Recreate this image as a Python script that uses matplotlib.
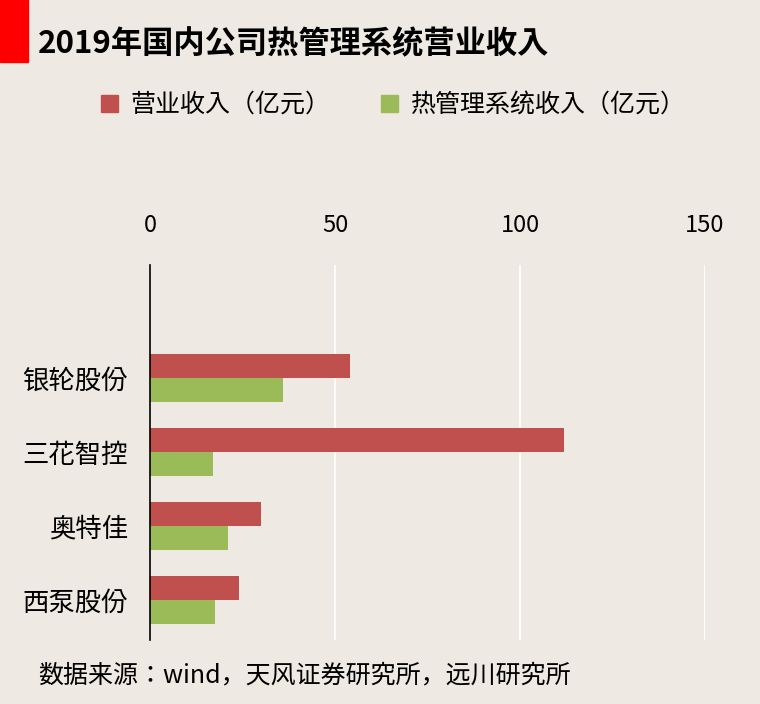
import matplotlib
matplotlib.use("Agg")
import matplotlib.pyplot as plt
import matplotlib.patches as mpatches
from matplotlib import font_manager as fm
import numpy as np

names = sorted({f.name for f in fm.fontManager.ttflist})
cjk = None
for pref in ["Noto Sans CJK SC", "Noto Sans CJK JP", "Noto Sans CJK TC", "Noto Sans CJK KR"]:
    if pref in names:
        cjk = pref
        break
if cjk is None:
    cands = [n for n in names if "Sans" in n and "CJK" in n]
    cjk = cands[0] if cands else "DejaVu Sans"
plt.rcParams["font.family"] = [cjk, "DejaVu Sans"]

title = "2019年国内公司热管理系统营业收入"
categories = ["银轮股份", "三花智控", "奥特佳", "西泵股份"]
revenue = [54.1, 111.9, 30.0, 24.0]
thermal = [35.9, 17.0, 21.0, 17.7]
series_names = ["营业收入（亿元）", "热管理系统收入（亿元）"]
xticks = [0, 50, 100, 150]
source = "数据来源：wind，天风证券研究所，远川研究所"

bg = "#eee9e2"
red = "#c0504d"
green = "#9bbb59"

fig = plt.figure(figsize=(7.6, 7.04), dpi=100, facecolor=bg)
ax = fig.add_axes([150/760, 1-640/704, 555/760, 375/704], facecolor=bg)

y = np.arange(len(categories))
h = 0.32
ax.barh(y - h/2, revenue, height=h, color=red)
ax.barh(y + h/2, thermal, height=h, color=green)
ax.set_ylim(3.54, -1.53)
ax.set_xlim(0, 150)
ax.set_yticks(y)
ax.set_yticklabels(categories, fontsize=19)
ax.set_xticks(xticks)
ax.set_xticklabels([str(t) for t in xticks], fontsize=17)
ax.xaxis.tick_top()
ax.tick_params(length=0)
ax.tick_params(axis="y", pad=16)
ax.tick_params(axis="x", pad=20)
ax.grid(axis="x", color="white", lw=1.2)
ax.set_axisbelow(True)
for s in ["top", "right", "bottom"]:
    ax.spines[s].set_visible(False)
ax.spines["left"].set_color("black")
ax.spines["left"].set_linewidth(1.2)

fig.patches.append(mpatches.Rectangle((0, 1-62/704), 28/760, 62/704, transform=fig.transFigure, color="#ff0000"))
fig.text(38/760, 1-44/704, title, fontsize=22.5, fontweight="bold", va="center")

handles = [mpatches.Patch(color=red), mpatches.Patch(color=green)]
fig.legend(handles, series_names, loc="center left", bbox_to_anchor=(78/760, 1-105/704),
           ncol=2, frameon=False, fontsize=18, handlelength=0.7, handleheight=0.7,
           columnspacing=2.0, handletextpad=0.5)

fig.text(38/760, 1-675/704, source, fontsize=18, style="italic", va="center")

fig.savefig("out.png", dpi=100, facecolor=bg)
